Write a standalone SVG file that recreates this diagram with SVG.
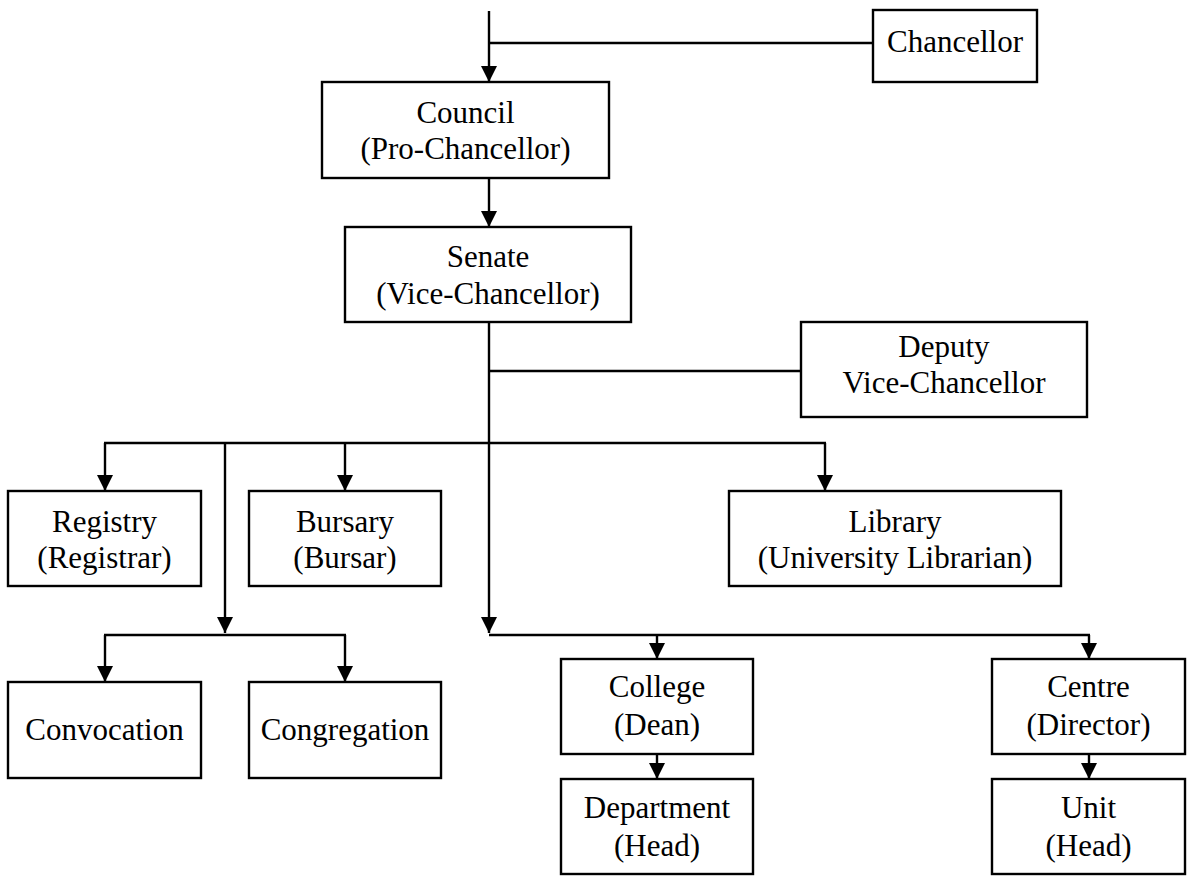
<svg xmlns="http://www.w3.org/2000/svg" width="1187" height="880" viewBox="0 0 1187 880">
<defs>
<marker id="arr" markerUnits="userSpaceOnUse" markerWidth="18" markerHeight="18" refX="16" refY="8" orient="auto">
<path d="M0,0 L16,8 L0,16 z" fill="#000"/>
</marker>
<style>
.box{fill:#fff;stroke:#000;stroke-width:2.4}
.c{stroke:#000;stroke-width:2.4;fill:none}
.a{marker-end:url(#arr)}
</style>
</defs>
<rect width="1187" height="880" fill="#fff"/>
<g id="connectors">
<line class="c a" x1="489" y1="11" x2="489" y2="82"/>
<line class="c" x1="489" y1="43" x2="873" y2="43"/>
<line class="c a" x1="489" y1="178" x2="489" y2="227"/>
<line class="c" x1="489" y1="371" x2="801" y2="371"/>
<line class="c a" x1="489" y1="322" x2="489" y2="633"/>
<line class="c" x1="104" y1="443" x2="826" y2="443"/>
<line class="c a" x1="105" y1="443" x2="105" y2="491"/>
<line class="c a" x1="345" y1="443" x2="345" y2="491"/>
<line class="c a" x1="825" y1="443" x2="825" y2="491"/>
<line class="c a" x1="225" y1="443" x2="225" y2="633"/>
<line class="c" x1="104" y1="635" x2="346" y2="635"/>
<line class="c a" x1="105" y1="635" x2="105" y2="682"/>
<line class="c a" x1="345" y1="635" x2="345" y2="682"/>
<line class="c" x1="489" y1="635" x2="1090" y2="635"/>
<line class="c a" x1="657" y1="635" x2="657" y2="659"/>
<line class="c a" x1="1089" y1="635" x2="1089" y2="659"/>
<line class="c a" x1="657" y1="754" x2="657" y2="779"/>
<line class="c a" x1="1089" y1="754" x2="1089" y2="779"/>
</g>
<g font-family="Liberation Serif, Times New Roman, serif" font-size="31" fill="#000" text-anchor="middle">
<g id="chancellor"><rect class="box" x="873" y="10" width="164" height="72"/><text x="955" y="52">Chancellor</text></g>
<g id="council"><rect class="box" x="322" y="82" width="287" height="96"/><text x="465.5" y="123">Council</text><text x="465.5" y="159">(Pro-Chancellor)</text></g>
<g id="senate"><rect class="box" x="345" y="227" width="286" height="95"/><text x="488" y="267">Senate</text><text x="488" y="304">(Vice-Chancellor)</text></g>
<g id="deputy"><rect class="box" x="801" y="322" width="286" height="95"/><text x="944" y="357">Deputy</text><text x="944" y="393">Vice-Chancellor</text></g>
<g id="registry"><rect class="box" x="8" y="491" width="193" height="95"/><text x="104.5" y="532">Registry</text><text x="104.5" y="568">(Registrar)</text></g>
<g id="bursary"><rect class="box" x="249" y="491" width="192" height="95"/><text x="345" y="532">Bursary</text><text x="345" y="568">(Bursar)</text></g>
<g id="library"><rect class="box" x="729" y="491" width="332" height="95"/><text x="895" y="532">Library</text><text x="895" y="568">(University Librarian)</text></g>
<g id="convocation"><rect class="box" x="8" y="682" width="193" height="96"/><text x="104.5" y="740">Convocation</text></g>
<g id="congregation"><rect class="box" x="249" y="682" width="192" height="96"/><text x="345" y="740">Congregation</text></g>
<g id="college"><rect class="box" x="561" y="659" width="192" height="95"/><text x="657" y="697">College</text><text x="657" y="735">(Dean)</text></g>
<g id="department"><rect class="box" x="561" y="779" width="192" height="95"/><text x="657" y="818">Department</text><text x="657" y="856">(Head)</text></g>
<g id="centre"><rect class="box" x="992" y="659" width="193" height="95"/><text x="1088.5" y="697">Centre</text><text x="1088.5" y="735">(Director)</text></g>
<g id="unit"><rect class="box" x="992" y="779" width="193" height="95"/><text x="1088.5" y="818">Unit</text><text x="1088.5" y="856">(Head)</text></g>
</g>
</svg>
